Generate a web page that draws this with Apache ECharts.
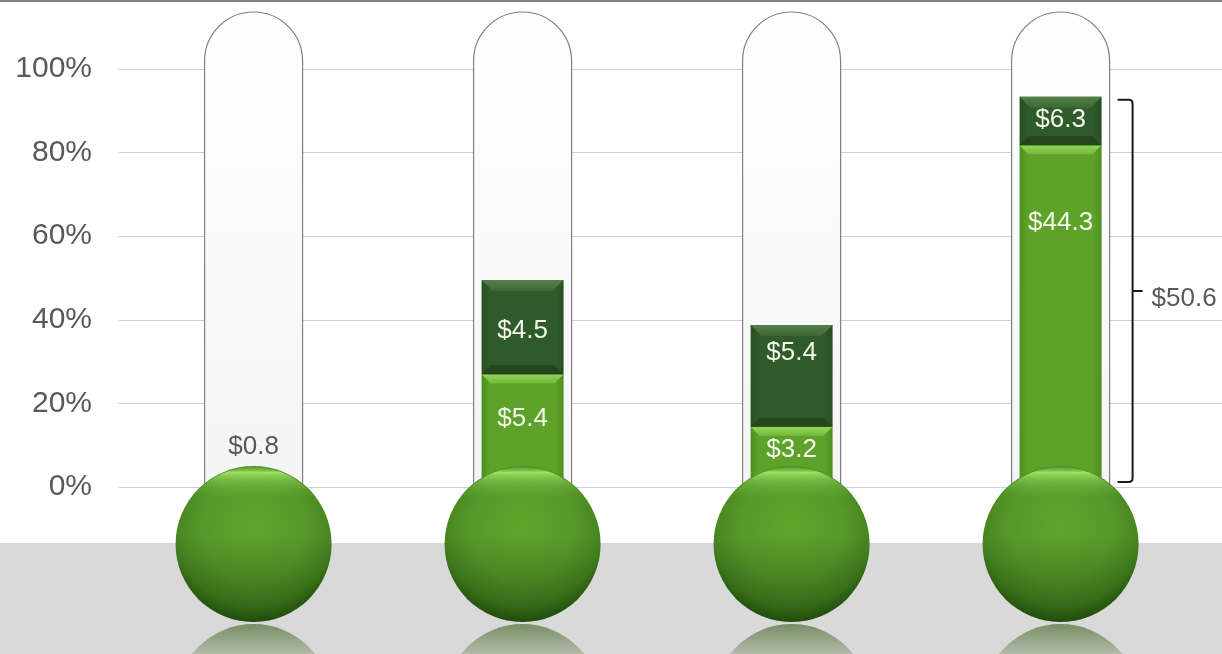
<!DOCTYPE html>
<html>
<head>
<meta charset="utf-8">
<script src="https://cdn.jsdelivr.net/npm/echarts@6/dist/echarts.min.js"></script>
<style>
  html, body { margin: 0; padding: 0; background: #ffffff; }
  #chart { width: 1222px; height: 654px; }
</style>
</head>
<body>
<div id="chart"></div>
<script>
// Fund-raising thermometers: each tube fills to (raised / goal) of its target.
const categories = ['1', '2', '3', '4'];
const firstTranche = [0.8, 5.4, 3.2, 44.3];   // light green segment, $
const secondTranche = [0, 4.5, 5.4, 6.3];     // dark green segment, $
const goals = [36, 20, 22.2, 54.2];           // $ that fills a tube to 100%
const yTicks = [0, 20, 40, 60, 80, 100];      // percent tick labels
const totalIndex = 3;                         // thermometer with the bracketed total

// Label placement (pixels below each segment's top edge)
const firstLabelShift = [-31, 45, 23, 77];
const secondLabelShift = [0, 51, 28, 23];

// Geometry / style
const TUBE_W = 98, BAR_W = 82, BULB_R = 78, BULB_DROP = 57, BEVEL = 9;
const FONT = '"Liberation Sans", Arial, sans-serif';

const pct = (v, g) => v / g * 100;
const seriesData = categories.map((c, i) => [
  i,
  pct(firstTranche[i], goals[i]),
  pct(firstTranche[i] + secondTranche[i], goals[i])
]);

const money = v => '$' + v.toFixed(1);

function renderThermometer(params, api) {
  const i = params.dataIndex;
  const base = api.coord([i, 0]);
  const xc = base[0], y0 = base[1];
  const y100 = api.coord([i, 100])[1];
  const yA = api.coord([i, api.value(1)])[1];
  const yB = api.coord([i, api.value(2)])[1];
  const xl = xc - BAR_W / 2, xr = xc + BAR_W / 2;
  const bulbY = y0 + BULB_DROP;
  const children = [];

  // glass tube
  children.push({
    type: 'rect',
    shape: { x: xc - TUBE_W / 2, y: y100 - BULB_DROP, width: TUBE_W, height: bulbY - (y100 - BULB_DROP), r: [TUBE_W / 2, TUBE_W / 2, 0, 0] },
    style: {
      fill: new echarts.graphic.LinearGradient(0, 0, 0, 1, [
        { offset: 0, color: '#ffffff' }, { offset: 0.2, color: '#fdfdfd' }, { offset: 1, color: '#f3f3f3' }
      ]),
      stroke: '#7f7f7f', lineWidth: 1.2
    }
  });

  // light green segment
  children.push({
    type: 'rect',
    shape: { x: xl, y: yA, width: BAR_W, height: y0 - yA + 40 },
    style: {
      fill: new echarts.graphic.LinearGradient(0, 0, 1, 0, [
        { offset: 0, color: '#4c8f20' }, { offset: 0.1, color: '#5da32a' },
        { offset: 0.9, color: '#5da32a' }, { offset: 1, color: '#4c8f20' }
      ])
    }
  });
  children.push({
    type: 'polygon',
    shape: { points: [[xl, yA], [xr, yA], [xr - BEVEL, yA + BEVEL], [xl + BEVEL, yA + BEVEL]] },
    style: {
      fill: new echarts.graphic.LinearGradient(0, 0, 0, 1, [
        { offset: 0, color: '#92d655' }, { offset: 1, color: '#74bb3b' }
      ])
    }
  });

  // dark green segment
  if (secondTranche[i] > 0) {
    children.push({
      type: 'rect',
      shape: { x: xl, y: yB, width: BAR_W, height: yA - yB },
      style: {
        fill: new echarts.graphic.LinearGradient(0, 0, 1, 0, [
          { offset: 0, color: '#294f23' }, { offset: 0.1, color: '#2f5a29' },
          { offset: 0.9, color: '#2f5a29' }, { offset: 1, color: '#294f23' }
        ])
      }
    });
    children.push({
      type: 'polygon',
      shape: { points: [[xl, yB], [xr, yB], [xr - 11, yB + 11], [xl + 11, yB + 11]] },
      style: {
        fill: new echarts.graphic.LinearGradient(0, 0, 0, 1, [
          { offset: 0, color: '#557f4a' }, { offset: 1, color: '#3d6835' }
        ])
      }
    });
    children.push({
      type: 'polygon',
      shape: { points: [[xl, yA], [xr, yA], [xr - BEVEL, yA - BEVEL], [xl + BEVEL, yA - BEVEL]] },
      style: { fill: '#24451e' }
    });
  }

  // reflection on the floor
  children.push({
    type: 'circle',
    shape: { cx: xc, cy: bulbY + BULB_R * 2 + 2, r: BULB_R },
    style: {
      fill: new echarts.graphic.LinearGradient(0, 0, 0, 1, [
        { offset: 0, color: '#778f65' }, { offset: 0.12, color: '#9cab90' },
        { offset: 0.26, color: '#c6ccc1' }, { offset: 0.4, color: '#d9d9d9' }
      ])
    }
  });

  // bulb
  children.push({
    type: 'circle',
    shape: { cx: xc, cy: bulbY, r: BULB_R },
    style: {
      fill: new echarts.graphic.RadialGradient(0.5, 0.4, 0.66, [
        { offset: 0, color: '#5fa52b' }, { offset: 0.5, color: '#57992a' },
        { offset: 0.76, color: '#478520' }, { offset: 0.9, color: '#2f6212' },
        { offset: 1, color: '#1c3f09' }
      ])
    }
  });
  // lower shading
  children.push({
    type: 'circle',
    shape: { cx: xc, cy: bulbY, r: BULB_R },
    style: {
      fill: new echarts.graphic.LinearGradient(0, 0, 0, 1, [
        { offset: 0, color: 'rgba(0,30,0,0)' }, { offset: 0.45, color: 'rgba(0,30,0,0)' },
        { offset: 1, color: 'rgba(10,40,0,0.35)' }
      ])
    }
  });
  // top highlight rim
  children.push({
    type: 'circle',
    shape: { cx: xc, cy: bulbY, r: BULB_R - 1 },
    style: {
      fill: new echarts.graphic.LinearGradient(0, 0, 0, 1, [
        { offset: 0, color: 'rgba(110,180,60,0.3)' }, { offset: 0.035, color: 'rgba(165,232,105,0.9)' },
        { offset: 0.09, color: 'rgba(140,215,85,0.5)' }, { offset: 0.2, color: 'rgba(110,190,60,0)' },
        { offset: 1, color: 'rgba(0,0,0,0)' }
      ])
    }
  });

  // value labels
  const firstShift = firstLabelShift[i];
  children.push({
    type: 'text',
    style: {
      text: money(firstTranche[i]), x: xc, y: yA + firstShift,
      align: 'center', verticalAlign: 'middle',
      fill: firstShift < 0 ? '#595959' : '#f4f7ec',
      fontSize: 26, fontFamily: FONT
    }
  });
  if (secondTranche[i] > 0) {
    children.push({
      type: 'text',
      style: {
        text: money(secondTranche[i]), x: xc, y: yB + secondLabelShift[i],
        align: 'center', verticalAlign: 'middle', fill: '#f4f7ec',
        fontSize: 26, fontFamily: FONT
      }
    });
  }

  // bracket with the running total
  if (i === totalIndex) {
    const xs = xc + 72, xh = xc + 57;
    const yt = yB + 3, yb = y0 - 5, ym = (yt + yb) / 2;
    children.push({
      type: 'path',
      shape: {
        pathData: `M ${xh} ${yt} L ${xs - 4} ${yt} Q ${xs} ${yt} ${xs} ${yt + 4} L ${xs} ${yb - 4} Q ${xs} ${yb} ${xs - 4} ${yb} L ${xh} ${yb} M ${xs} ${ym} L ${xs + 10} ${ym}`
      },
      style: { fill: 'none', stroke: '#1a1a1a', lineWidth: 2 }
    });
    children.push({
      type: 'text',
      style: {
        text: money(firstTranche[i] + secondTranche[i]), x: xs + 19, y: ym + 8,
        align: 'left', verticalAlign: 'middle', fill: '#595959',
        fontSize: 26, fontFamily: FONT
      }
    });
  }

  return { type: 'group', children };
}

const chart = echarts.init(document.getElementById('chart'), null, { renderer: 'canvas' });
chart.setOption({
  animation: false,
  backgroundColor: '#ffffff',
  grid: { left: 118, right: 0, top: 69, bottom: 167, containLabel: false, outerBoundsMode: 'none' },
  xAxis: { type: 'value', min: -0.504, max: 3.6, show: false },
  yAxis: {
    type: 'value',
    min: yTicks[0], max: yTicks[yTicks.length - 1], interval: yTicks[1] - yTicks[0],
    axisLine: { show: false }, axisTick: { show: false },
    axisLabel: { formatter: '{value}%', color: '#595959', fontSize: 30, fontFamily: FONT, margin: 26 },
    splitLine: { lineStyle: { color: '#cfcfcf', width: 1 } }
  },
  graphic: [
    { type: 'rect', left: 0, top: 543, z: 0, shape: { width: 1222, height: 111 }, style: { fill: '#d9d9d9' } },
    { type: 'rect', left: 0, top: 0, z: 100, shape: { width: 1222, height: 2 }, style: { fill: '#808080' } }
  ],
  series: [{
    type: 'custom',
    clip: false,
    renderItem: renderThermometer,
    data: seriesData,
    z: 3
  }]
});
</script>
</body>
</html>
